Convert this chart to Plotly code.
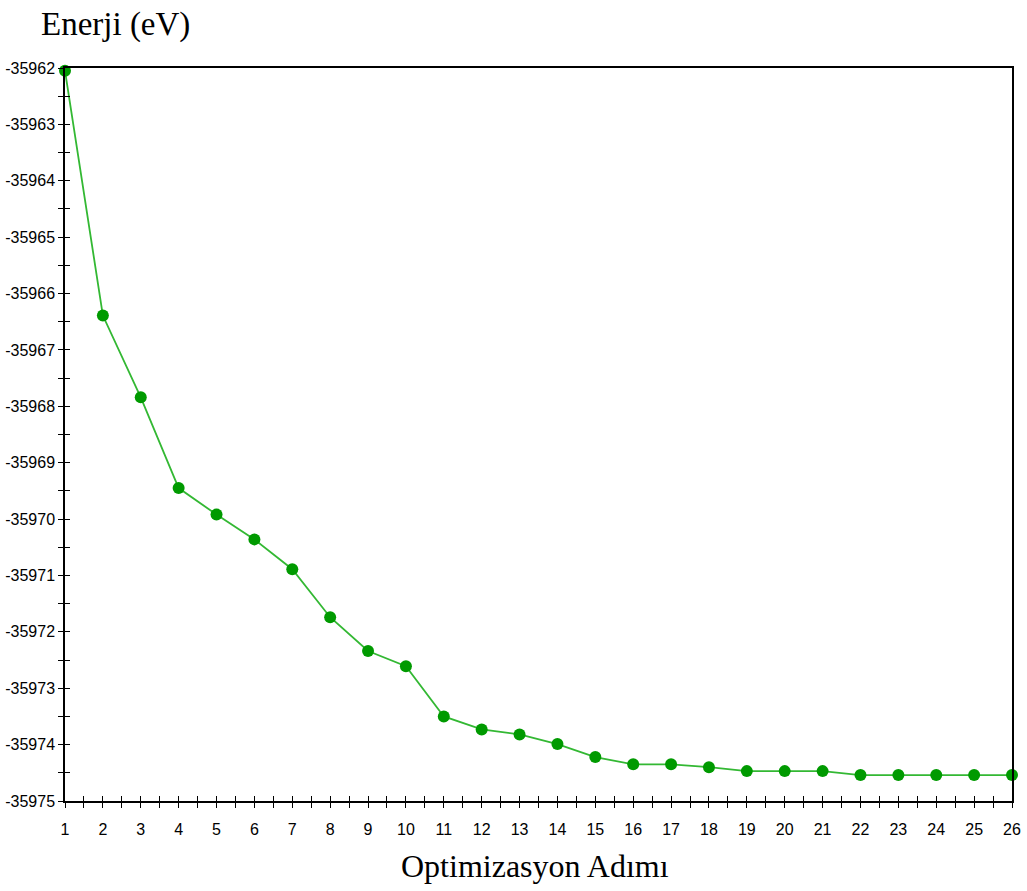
import plotly.graph_objects as go

steps = list(range(1, 27))
energy = [-35962.05, -35966.39, -35967.84, -35969.45, -35969.92, -35970.36,
          -35970.89, -35971.74, -35972.34, -35972.61, -35973.50, -35973.73,
          -35973.82, -35973.99, -35974.22, -35974.35, -35974.35, -35974.40,
          -35974.47, -35974.47, -35974.47, -35974.54, -35974.54, -35974.54,
          -35974.54, -35974.54]
y_ticks = list(range(-35975, -35961))
x_ticks = steps

fig = go.Figure()
fig.add_trace(go.Scatter(
    x=steps, y=energy, mode="lines+markers",
    line=dict(color="#33b833", width=1.8),
    marker=dict(color="#009a00", size=12, symbol="circle"),
    cliponaxis=False, showlegend=False, hoverinfo="skip"))
# invisible trace to activate overlay axes for inward ticks
fig.add_trace(go.Scatter(x=[steps[0]], y=[energy[0]], xaxis="x2", yaxis="y2",
                         mode="markers", marker=dict(opacity=0),
                         showlegend=False, hoverinfo="skip"))

tickfont = dict(family="Liberation Sans", size=16, color="#000000")
common = dict(showgrid=False, zeroline=False, showline=True, linecolor="#000000",
              linewidth=1.5, ticklen=5, tickwidth=1.3, tickcolor="#000000",
              automargin=False)

fig.update_layout(
    width=1027, height=891,
    margin=dict(l=65, r=15, t=68, b=90),
    plot_bgcolor="#ffffff", paper_bgcolor="#ffffff",
    xaxis=dict(range=[1, 26], tickmode="array", tickvals=x_ticks,
               ticktext=[str(v) for v in x_ticks], ticks="outside",
               ticklabelstandoff=8,
               minor=dict(ticks="outside", dtick=0.5, tick0=1, ticklen=5,
                          tickwidth=1.3, tickcolor="#000000"),
               mirror=True, tickfont=tickfont, **common),
    yaxis=dict(range=[-35975, -35962], tickmode="array", tickvals=y_ticks,
               ticktext=[str(v) for v in y_ticks], ticks="outside",
               minor=dict(ticks="outside", dtick=0.5, tick0=-35975, ticklen=5,
                          tickwidth=1.3, tickcolor="#000000"),
               mirror=True, tickfont=tickfont, **common),
    xaxis2=dict(range=[1, 26], overlaying="x", side="bottom", tickmode="array",
                tickvals=x_ticks, showticklabels=False, ticks="inside",
                minor=dict(ticks="inside", dtick=0.5, tick0=1, ticklen=5,
                           tickwidth=1.3, tickcolor="#000000"),
                **common),
    yaxis2=dict(range=[-35975, -35962], overlaying="y", side="left",
                tickmode="array", tickvals=y_ticks, showticklabels=False,
                ticks="inside",
                minor=dict(ticks="inside", dtick=0.5, tick0=-35975, ticklen=5,
                           tickwidth=1.3, tickcolor="#000000"),
                **common),
    annotations=[
        dict(text="Enerji (eV)", xref="paper", yref="paper",
             x=-26 / 947, y=(801 - 25) / 733, xanchor="left", yanchor="middle",
             showarrow=False,
             font=dict(family="Liberation Serif, Times New Roman, serif", size=33, color="#000000")),
        dict(text="Optimizasyon Adımı", xref="paper", yref="paper",
             x=(535 - 65) / 947, y=(801 - 866) / 733, xanchor="center", yanchor="middle",
             showarrow=False,
             font=dict(family="Liberation Serif, Times New Roman, serif", size=32, color="#000000")),
    ],
)

fig.write_html("out.html")
